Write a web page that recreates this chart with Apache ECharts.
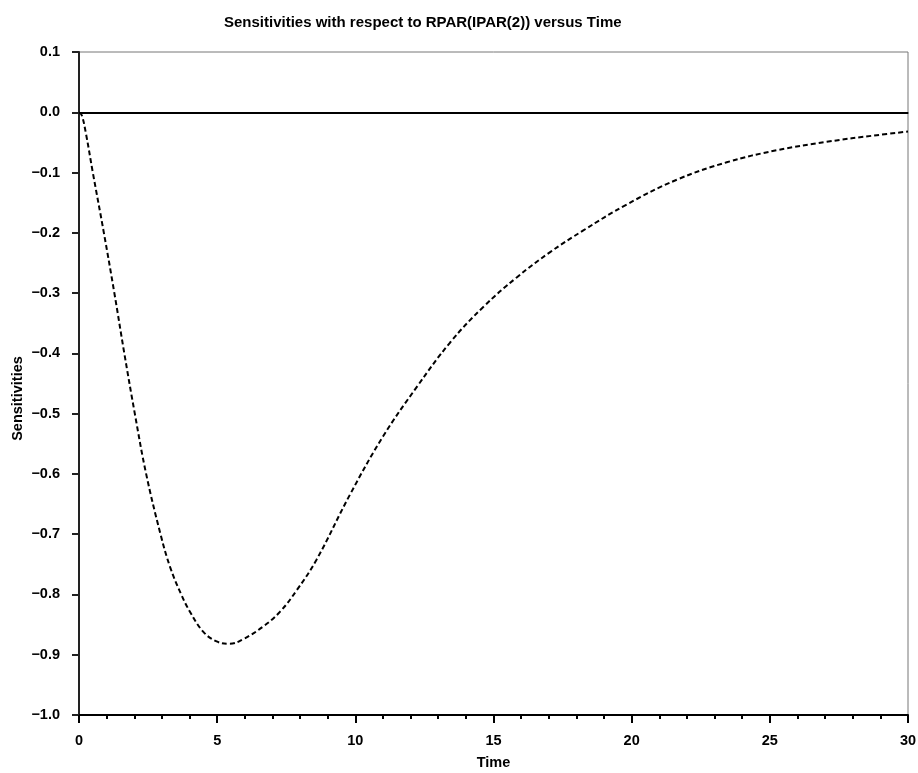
<!DOCTYPE html>
<html>
<head>
<meta charset="utf-8">
<script src="https://cdn.jsdelivr.net/npm/echarts@6/dist/echarts.min.js"></script>
<style>
  html, body { margin: 0; padding: 0; background: #fff; }
  #chartBox { width: 918px; height: 773px; }
</style>
</head>
<body>
<div id="chartBox"></div>
<script>
// values
const timeValues = [0, 0.1, 0.25, 0.5, 0.9, 1.28, 1.64, 2.02, 2.43, 2.95, 3.3, 3.7, 4.02, 4.5, 4.98, 5.44,
  5.95, 6.67, 7.27, 7.88, 8.6, 9.81, 11.0, 12.22, 13.43, 14.63, 15.84, 17.05, 18.25, 19.82, 21.63,
  23.44, 25.25, 27.06, 28.87, 30];
const sensValues = [0, -0.005, -0.035, -0.1, -0.2, -0.3, -0.4, -0.5, -0.6, -0.7, -0.755, -0.8, -0.829, -0.862, -0.878, -0.882,
  -0.874, -0.853, -0.829, -0.793, -0.742, -0.634, -0.538, -0.456, -0.382, -0.323, -0.274, -0.232, -0.196, -0.153, -0.112,
  -0.083, -0.063, -0.049, -0.038, -0.032];
const xTicks = [0, 5, 10, 15, 20, 25, 30];
const yTicks = [-1.0, -0.9, -0.8, -0.7, -0.6, -0.5, -0.4, -0.3, -0.2, -0.1, 0.0, 0.1];

const font = 'Liberation Sans, Arial, sans-serif';
const chart = echarts.init(document.getElementById('chartBox'));

const option = {
  animation: false,
  title: {
    text: 'Sensitivities with respect to RPAR(IPAR(2)) versus Time',
    left: 219,
    top: 10,
    textStyle: { fontFamily: font, fontSize: 15, fontWeight: 'bold', color: '#000' }
  },
  grid: {
    left: 79, right: 10, top: 52, bottom: 58,
    containLabel: false,
    outerBoundsMode: 'none',
    show: true, borderColor: '#777', borderWidth: 1
  },
  xAxis: [{
    type: 'value',
    min: xTicks[0],
    max: xTicks[xTicks.length - 1],
    interval: 5,
    name: 'Time',
    nameLocation: 'middle',
    nameGap: 40,
    nameMoveOverlap: false,
    nameTextStyle: { fontFamily: font, fontSize: 14.5, fontWeight: 'bold', color: '#000' },
    axisLine: { onZero: false, lineStyle: { color: '#000', width: 2 } },
    axisTick: { length: 8, lineStyle: { color: '#000', width: 2 } },
    minorTick: { show: true, splitNumber: 5, length: 4, lineStyle: { color: '#000', width: 2 } },
    axisLabel: { fontFamily: font, fontSize: 14.5, fontWeight: 'bold', color: '#000', margin: 18 },
    splitLine: { show: false }
  }, {
    type: 'value',
    position: 'top',
    min: 0, max: 30,
    axisLine: { show: true, lineStyle: { color: '#222', width: 1.5 } },
    axisTick: { show: false },
    axisLabel: { show: false },
    splitLine: { show: false }
  }],
  yAxis: {
    type: 'value',
    min: yTicks[0],
    max: yTicks[yTicks.length - 1],
    interval: 0.1,
    name: 'Sensitivities',
    nameLocation: 'middle',
    nameGap: 54,
    nameMoveOverlap: false,
    nameTextStyle: { fontFamily: font, fontSize: 14.5, fontWeight: 'bold', color: '#000', padding: [0, 0, 0, -30] },
    axisLine: { show: true, onZero: false, lineStyle: { color: '#222', width: 2 } },
    axisTick: { show: true, length: 7, lineStyle: { color: '#222', width: 2 } },
    axisLabel: {
      fontFamily: font, fontSize: 14.5, fontWeight: 'bold', color: '#000', margin: 19,
      formatter: v => (v < 0 ? '\u2212' : '') + Math.abs(v).toFixed(1)
    },
    splitLine: { show: false }
  },
  series: [{
    type: 'line',
    data: timeValues.map((t, i) => [t, sensValues[i]]),
    smooth: 0.4,
    showSymbol: false,
    lineStyle: { color: '#000', width: 2, type: [5, 3] },
    markLine: {
      silent: true,
      symbol: 'none',
      label: { show: false },
      lineStyle: { color: '#000', width: 2, type: 'solid' },
      data: [{ yAxis: 0 }]
    }
  }]
};

chart.setOption(option);
</script>
</body>
</html>
